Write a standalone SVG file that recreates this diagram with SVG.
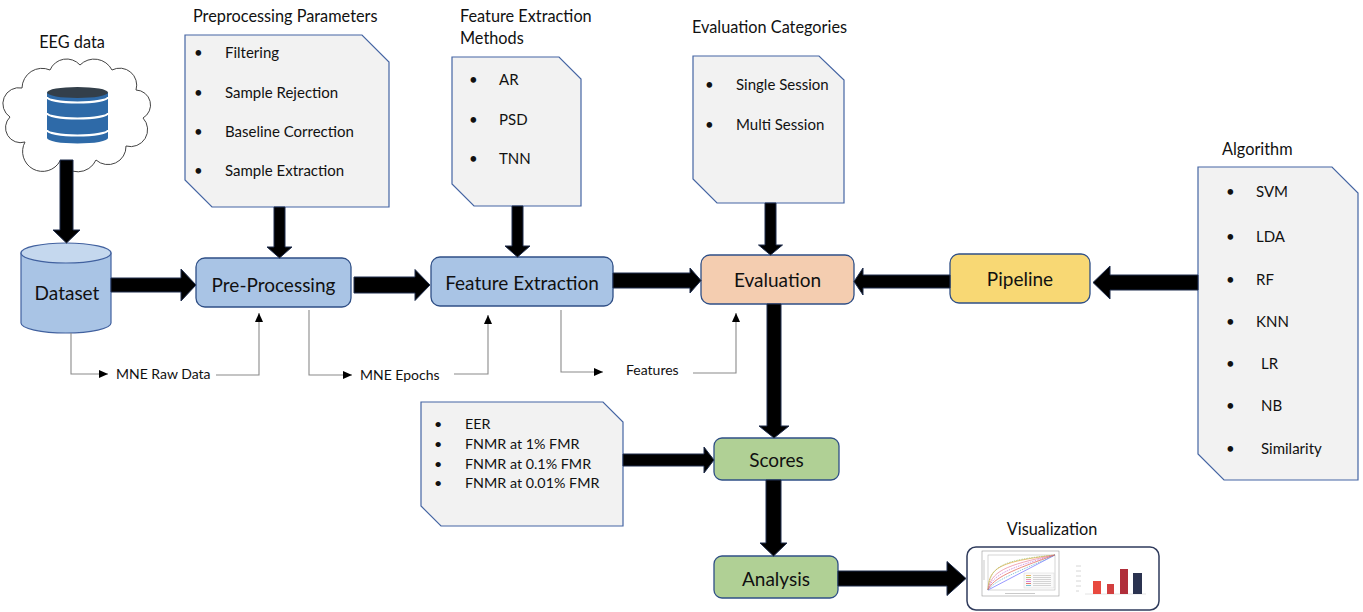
<svg xmlns="http://www.w3.org/2000/svg" width="1363" height="612" viewBox="0 0 1363 612">
<defs>
<style>
text{font-family:Lato,"Open Sans","Liberation Sans",sans-serif;fill:#111}
.h{font-size:16.3px}
.b{font-size:15px}
.s{font-size:14.3px}
.lbl{font-size:19px;text-anchor:middle}
.cl{font-size:14px}
.doc{fill:#f2f2f2;stroke:#4565a3;stroke-width:1.2}
.box{stroke:#2f4f86;stroke-width:1.3}
.blue{fill:#a9c4e5}
.peach{fill:#f4cdb0}
.yel{fill:#f8d874}
.grn{fill:#b0d095}
.ar{fill:#000;stroke:#1f2d4d;stroke-width:1}
.thin{fill:none;stroke:#8a8a8a;stroke-width:1.1}
</style>
<marker id="tip" markerUnits="userSpaceOnUse" markerWidth="10" markerHeight="10" refX="9" refY="4" orient="auto">
<path d="M0,0 L9,4 L0,8 z" fill="#000"/>
</marker>
</defs>
<rect width="1363" height="612" fill="#fff"/>

<!-- EEG data cloud -->
<g id="eeg-data">
<text class="h" x="72" y="48" text-anchor="middle">EEG data</text>
<path d="M25,142 A15,15 0 0 1 10,117 A16,16 0 0 1 22,88 A20,20 0 0 1 50,70 A18,18 0 0 1 80,65 A20,20 0 0 1 112,70 A17,17 0 0 1 136,90 A15,15 0 0 1 143,118 A17,17 0 0 1 126,146 A18,18 0 0 1 96,160 A20,20 0 0 1 60,161 A18,18 0 0 1 25,142 Z" fill="#fff" stroke="#444" stroke-width="1"/>
<path d="M47,92.5 L47,138 A30.5,5.5 0 0 0 108,138 L108,92.5 Z" fill="#2e6aa8"/>
<path d="M47,113 A30.5,5.5 0 0 0 108,113 M47,130 A30.5,5.5 0 0 0 108,130 M47,97 A30.5,5.5 0 0 0 108,97" fill="none" stroke="#fff" stroke-width="2.2"/>
<ellipse cx="77.5" cy="92.5" rx="30.5" ry="5.5" fill="#333f4a"/>
</g>

<!-- Dataset -->
<g id="dataset">
<path d="M21,253 L21,323 A45,10 0 0 0 111,323 L111,253 Z" class="blue" stroke="#41619f" stroke-width="1.2"/>
<ellipse cx="66" cy="253" rx="45" ry="10" fill="#c5d8ee" stroke="#41619f" stroke-width="1.2"/>
<text class="lbl" x="67" y="300">Dataset</text>
</g>

<!-- Preprocessing parameters -->
<g id="preproc-params">
<text class="h" x="193" y="21.5">Preprocessing Parameters</text>
<polygon class="doc" points="185,35 362,35 389,62 389,207 212,207 185,180"/>
<text class="b" x="194" y="58">•</text><text class="b" x="225" y="58">Filtering</text>
<text class="b" x="194" y="98">•</text><text class="b" x="225" y="98">Sample Rejection</text>
<text class="b" x="194" y="137">•</text><text class="b" x="225" y="137">Baseline Correction</text>
<text class="b" x="194" y="176">•</text><text class="b" x="225" y="176">Sample Extraction</text>
</g>

<!-- Feature extraction methods -->
<g id="fe-methods">
<text class="h" x="460" y="22">Feature Extraction</text>
<text class="h" x="460" y="43.5">Methods</text>
<polygon class="doc" points="452,57 559,57 581,79 581,206 474,206 452,184"/>
<text class="b" x="469" y="85">•</text><text class="b" x="499" y="85">AR</text>
<text class="b" x="469" y="125">•</text><text class="b" x="499" y="125">PSD</text>
<text class="b" x="469" y="164">•</text><text class="b" x="499" y="164">TNN</text>
</g>

<!-- Evaluation categories -->
<g id="eval-categories">
<text class="h" x="692" y="33">Evaluation Categories</text>
<polygon class="doc" points="693,56 819,56 844,80 844,203 717,203 693,179"/>
<text class="b" x="705" y="90">•</text><text class="b" x="736" y="90">Single Session</text>
<text class="b" x="705" y="130">•</text><text class="b" x="736" y="130">Multi Session</text>
</g>

<!-- Algorithm -->
<g id="algorithm">
<text class="h" x="1222" y="155">Algorithm</text>
<polygon class="doc" points="1198,167 1332,167 1358,193 1358,480 1224,480 1198,454"/>
<text class="b" x="1226" y="197">•</text><text class="b" x="1256" y="197">SVM</text>
<text class="b" x="1226" y="242">•</text><text class="b" x="1256" y="242">LDA</text>
<text class="b" x="1226" y="285">•</text><text class="b" x="1256" y="285">RF</text>
<text class="b" x="1226" y="327">•</text><text class="b" x="1256" y="327">KNN</text>
<text class="b" x="1226" y="369">•</text><text class="b" x="1261" y="369">LR</text>
<text class="b" x="1226" y="411">•</text><text class="b" x="1261" y="411">NB</text>
<text class="b" x="1226" y="454">•</text><text class="b" x="1261" y="454">Similarity</text>
</g>

<!-- Score metrics -->
<g id="score-metrics">
<polygon class="doc" points="421,402 603,402 623,422 623,526 441,526 421,506"/>
<text class="s" x="434" y="429">•</text><text class="s" x="465" y="429">EER</text>
<text class="s" x="434" y="449">•</text><text class="s" x="465" y="449">FNMR at 1% FMR</text>
<text class="s" x="434" y="469">•</text><text class="s" x="465" y="469">FNMR at 0.1% FMR</text>
<text class="s" x="434" y="487.5">•</text><text class="s" x="465" y="487.5">FNMR at 0.01% FMR</text>
</g>

<!-- Process boxes -->
<g id="pre-processing">
<rect class="box blue" x="196" y="258" width="155" height="49" rx="9"/>
<text class="lbl" x="273.5" y="292">Pre-Processing</text>
</g>
<g id="feature-extraction">
<rect class="box blue" x="431" y="257" width="182" height="49" rx="9"/>
<text class="lbl" x="522" y="290">Feature Extraction</text>
</g>
<g id="evaluation">
<rect class="box peach" x="701" y="255" width="153" height="49" rx="9"/>
<text class="lbl" x="777.5" y="287">Evaluation</text>
</g>
<g id="pipeline">
<rect class="box yel" x="950" y="254" width="140" height="49" rx="9"/>
<text class="lbl" x="1020" y="286">Pipeline</text>
</g>
<g id="scores">
<rect class="box grn" x="714" y="438" width="125" height="42" rx="8"/>
<text class="lbl" x="776.5" y="467">Scores</text>
</g>
<g id="analysis">
<rect class="box grn" x="714" y="556" width="124" height="42" rx="8"/>
<text class="lbl" x="776" y="586">Analysis</text>
</g>

<!-- Visualization -->
<g id="visualization">
<text class="h" x="1052" y="535" text-anchor="middle">Visualization</text>
<rect x="967" y="547" width="192" height="63" rx="9" fill="#fff" stroke="#2f3b5c" stroke-width="1.5"/>
<rect x="982" y="551" width="77" height="45" fill="#fff" stroke="#999" stroke-width="0.6"/>
<rect x="988" y="555" width="67" height="35" fill="#fff" stroke="#aaa" stroke-width="0.5"/>
<g fill="none" stroke-width="0.7">
<path d="M988,590 L1055,555" stroke="#6b6bff"/>
<path d="M988,590 C989,568 998,562 1055,555" stroke="#e8a43c"/>
<path d="M988,590 C990,566 1002,560 1055,555" stroke="#9ac36b" stroke-dasharray="1.5,1"/>
<path d="M988,590 C991,572 1004,565 1055,555" stroke="#e87f9a"/>
<path d="M988,590 C992,575 1008,568 1055,555" stroke="#c36bd6" stroke-dasharray="1.5,1"/>
<path d="M988,590 C993,578 1012,570 1055,555" stroke="#e05a4a"/>
<path d="M988,590 C995,580 1018,572 1055,555" stroke="#5fb3c9" stroke-dasharray="1.5,1"/>
</g>
<rect x="1024" y="573" width="30" height="15" fill="#fafafa" stroke="#ccc" stroke-width="0.4"/>
<g stroke-width="0.8">
<path d="M1026,575.5 h5" stroke="#e8a43c"/><path d="M1026,577.5 h5" stroke="#9ac36b"/>
<path d="M1026,579.5 h5" stroke="#e87f9a"/><path d="M1026,581.5 h5" stroke="#c36bd6"/>
<path d="M1026,583.5 h5" stroke="#e05a4a"/><path d="M1026,585.5 h5" stroke="#5fb3c9"/>
<path d="M1033,575.5 h18 M1033,577.5 h18 M1033,579.5 h18 M1033,581.5 h18 M1033,583.5 h18 M1033,585.5 h18" stroke="#bbb" stroke-width="0.6"/>
<path d="M1005,593.5 h30 M984,560 v20" stroke="#bbb" stroke-width="0.8"/>
</g>
<path d="M1085,594 H1146" stroke="#ddd" stroke-width="0.8"/>
<path d="M1076,566 h5 M1076,571 h5 M1076,576 h5 M1076,581 h5 M1076,586 h5 M1076,591 h3" stroke="#ccc" stroke-width="0.8"/>
<rect x="1093" y="581" width="8" height="13" fill="#e8493f"/>
<rect x="1107" y="584" width="7" height="10" fill="#d23f3f"/>
<rect x="1120" y="569" width="8" height="25" fill="#b02e3a"/>
<rect x="1133" y="573" width="9" height="21" fill="#2b3350"/>
</g>

<!-- Connectors -->
<g id="connectors">
<polygon class="ar" points="60,160 73,160 73,230 80,230 66.5,243 53,230 60,230"/>
<polygon class="ar" points="111,278 181,278 181,269 196,285 181,301 181,292 111,292"/>
<polygon class="ar" points="274,207 285,207 285,247 292,247 279.5,258 267,247 274,247"/>
<polygon class="ar" points="354,277 415,277 415,269.5 430,285 415,300.5 415,293 354,293"/>
<polygon class="ar" points="512,206 523,206 523,246 530,246 517.5,257 505,246 512,246"/>
<polygon class="ar" points="613,273 690,273 690,268 701,280.5 690,293 690,288 613,288"/>
<polygon class="ar" points="765,203 776,203 776,245 782.5,245 770.5,255 758.5,245 765,245"/>
<polygon class="ar" points="950,275 863,275 863,268 854,281.5 863,295 863,288 950,288"/>
<polygon class="ar" points="1198,275 1110,275 1110,266 1093,282.5 1110,299 1110,290 1198,290"/>
<polygon class="ar" points="767,304 781,304 781,426 789,426 774,438 759,426 767,426"/>
<polygon class="ar" points="623,454 704,454 704,447 714,460 704,473 704,466 623,466"/>
<polygon class="ar" points="766,480 781,480 781,543 787,543 773.5,556 760,543 766,543"/>
<polygon class="ar" points="838,571 947,571 947,561.5 966,578.5 947,595.5 947,586 838,586"/>

<path class="thin" d="M71,333 V374 H108" marker-end="url(#tip)"/>
<path class="thin" d="M216,375 H259 V313" marker-end="url(#tip)"/>
<path class="thin" d="M309,310 V375 H352" marker-end="url(#tip)"/>
<path class="thin" d="M454,374 H488 V315" marker-end="url(#tip)"/>
<path class="thin" d="M561,310 V372 H603" marker-end="url(#tip)"/>
<path class="thin" d="M693,373 H736 V313" marker-end="url(#tip)"/>
<text class="cl" x="116" y="379">MNE Raw Data</text>
<text class="cl" x="360" y="380">MNE Epochs</text>
<text class="cl" x="626" y="375" font-size="14.5">Features</text>
</g>
</svg>
